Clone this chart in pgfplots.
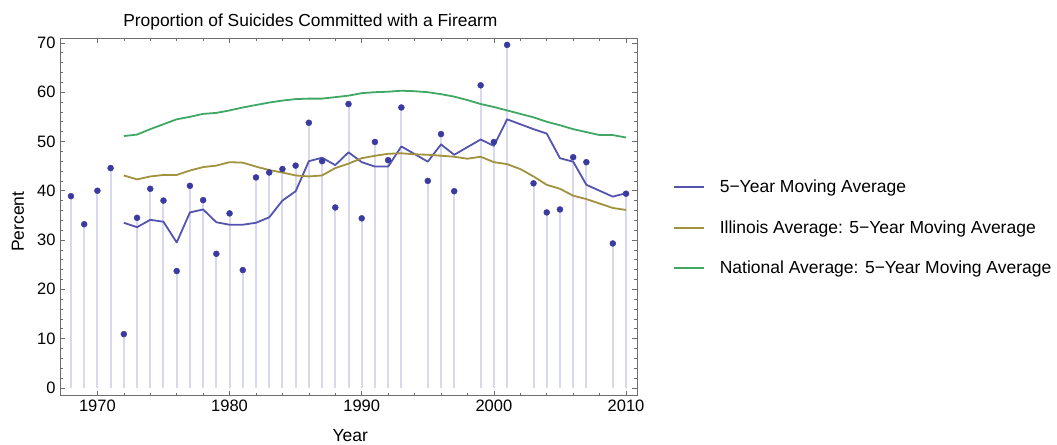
\documentclass[border=0pt]{standalone}
\usepackage{pgfplots}
\pgfplotsset{compat=1.18}
\usepackage{fontspec}
\setmainfont{Liberation Sans}

\definecolor{stemcol}{RGB}{216,216,238}
\definecolor{dotcol}{RGB}{58,58,160}
\definecolor{macol}{RGB}{84,84,176}
\definecolor{ilcol}{RGB}{160,146,62}
\definecolor{natcol}{RGB}{64,168,100}
\definecolor{framecol}{RGB}{110,110,110}

\begin{document}
\begin{tikzpicture}
\path[use as bounding box] (-60pt,-49.3pt) rectangle (997pt,395.5pt);
\begin{axis}[
  scale only axis,
  width=577pt, height=357pt,
  xmin=1967.17, xmax=2010.83,
  ymin=-1.56, ymax=70.9,
  axis line style={framecol, line width=0.8pt},
  tick style={framecol, line width=0.6pt},
  major tick length=5pt, minor tick length=3pt,
  tick align=inside,
  xtick={1970,1980,1990,2000,2010},
  ytick={0,10,20,30,40,50,60,70},
  minor x tick num=4, minor y tick num=4,
  xticklabel style={/pgf/number format/1000 sep={}, font=\fontsize{16.5}{19}\selectfont, yshift=-1pt},
  yticklabel style={font=\fontsize{16.5}{19}\selectfont, xshift=-1pt},
  /pgf/number format/assume math mode=true,
  every axis title/.style={at={(0.434,1)}, anchor=base, yshift=11.5pt, inner sep=0pt, font=\fontsize{17.4}{20}\selectfont},
  title={Proportion of Suicides Committed with a Firearm},
  xlabel={Year},
  every axis x label/.style={at={(axis description cs:0.503,0)}, anchor=north, yshift=-34pt, inner sep=0pt, font=\fontsize{17.5}{20}\selectfont},
  ylabel={Percent},
  every axis y label/.style={at={(axis description cs:-0.0728,0.487)}, anchor=center, rotate=90, inner sep=0pt, font=\fontsize{17.5}{20}\selectfont},
  legend cell align=left,
  legend style={at={(1.062,0.47)}, anchor=west, draw=none, fill=none, inner sep=0pt,
    font=\fontsize{17.5}{20}\selectfont, row sep=26.5pt,
    nodes={inner sep=0pt},
    /tikz/every odd column/.append style={column sep=15pt}},
]
% yearly values: stems and dots
\addplot[ycomb, stemcol, line width=2pt, forget plot] table {
1968 38.9
1969 33.2
1970 40.0
1971 44.6
1972 10.9
1973 34.5
1974 40.4
1975 38.0
1976 23.7
1977 41.0
1978 38.1
1979 27.2
1980 35.4
1981 23.9
1982 42.7
1983 43.7
1984 44.4
1985 45.1
1986 53.8
1987 46.0
1988 36.6
1989 57.6
1990 34.4
1991 49.9
1992 46.2
1993 56.9
1995 42.0
1996 51.5
1997 39.9
1999 61.4
2000 49.9
2001 69.6
2003 41.5
2004 35.6
2005 36.2
2006 46.8
2007 45.8
2009 29.3
2010 39.4
};
% 5-year moving average
\addplot[macol, line width=1.8pt, line join=round,
  legend image code/.code={\draw[macol, line width=1.8pt] (0pt,0pt) -- (30pt,0pt);}] table {
1972 33.5
1973 32.6
1974 34.1
1975 33.7
1976 29.5
1977 35.6
1978 36.2
1979 33.6
1980 33.1
1981 33.1
1982 33.5
1983 34.6
1984 38.0
1985 39.9
1986 46.0
1987 46.7
1988 45.2
1989 47.8
1990 45.8
1991 44.9
1992 44.9
1993 49.0
1995 45.9
1996 49.4
1997 47.3
1999 50.4
2000 49.1
2001 54.5
2003 52.5
2004 51.6
2005 46.6
2006 45.9
2007 41.2
2009 38.8
2010 39.5
};
\addlegendentry{5\textminus Year Moving Average}
% Illinois average
\addplot[ilcol, line width=1.8pt, line join=round,
  legend image code/.code={\draw[ilcol, line width=1.8pt] (0pt,0pt) -- (30pt,0pt);}] table {
1972 43.1
1973 42.3
1974 42.9
1975 43.2
1976 43.2
1977 44.1
1978 44.8
1979 45.1
1980 45.8
1981 45.7
1982 44.9
1983 44.2
1984 43.7
1985 43.1
1986 42.9
1987 43.1
1988 44.6
1989 45.5
1990 46.6
1991 47.1
1992 47.5
1993 47.6
1994 47.4
1995 47.3
1996 47.1
1997 46.9
1998 46.5
1999 46.9
2000 45.8
2001 45.4
2002 44.4
2003 42.9
2004 41.2
2005 40.4
2006 39.0
2007 38.3
2008 37.4
2009 36.5
2010 36.1
};
\addlegendentry{Illinois Average: 5\textminus Year Moving Average}
% national average
\addplot[natcol, line width=1.8pt, line join=round,
  legend image code/.code={\draw[natcol, line width=1.8pt] (0pt,0pt) -- (30pt,0pt);}] table {
1972 51.1
1973 51.4
1974 52.5
1975 53.5
1976 54.5
1977 55.0
1978 55.6
1979 55.8
1980 56.3
1981 56.9
1982 57.4
1983 57.9
1984 58.3
1985 58.6
1986 58.7
1987 58.7
1988 59.0
1989 59.3
1990 59.8
1991 60.0
1992 60.1
1993 60.3
1994 60.2
1995 60.0
1996 59.6
1997 59.1
1998 58.4
1999 57.6
2000 57.0
2001 56.3
2002 55.6
2003 54.9
2004 54.0
2005 53.3
2006 52.5
2007 51.9
2008 51.3
2009 51.3
2010 50.8
};
\addlegendentry{National Average: 5\textminus Year Moving Average}
% yearly dots on top
\addplot[only marks, mark=*, mark size=3pt, dotcol, forget plot] table {
1968 38.9
1969 33.2
1970 40.0
1971 44.6
1972 10.9
1973 34.5
1974 40.4
1975 38.0
1976 23.7
1977 41.0
1978 38.1
1979 27.2
1980 35.4
1981 23.9
1982 42.7
1983 43.7
1984 44.4
1985 45.1
1986 53.8
1987 46.0
1988 36.6
1989 57.6
1990 34.4
1991 49.9
1992 46.2
1993 56.9
1995 42.0
1996 51.5
1997 39.9
1999 61.4
2000 49.9
2001 69.6
2003 41.5
2004 35.6
2005 36.2
2006 46.8
2007 45.8
2009 29.3
2010 39.4
};
\end{axis}
\end{tikzpicture}
\end{document}
